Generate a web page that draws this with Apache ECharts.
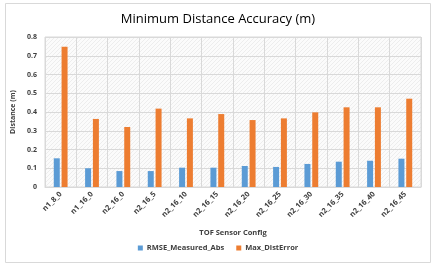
<!DOCTYPE html>
<html>
<head>
<meta charset="utf-8">
<script src="https://cdn.jsdelivr.net/npm/echarts@6/dist/echarts.min.js"></script>
<style>
html,body{margin:0;padding:0;background:#fff;}
#chart{width:436px;height:268px;}
</style>
</head>
<body>
<div id="chart"></div>
<script>
var categories = ['n1_8_0','n1_16_0','n2_16_0','n2_16_5','n2_16_10','n2_16_15','n2_16_20','n2_16_25','n2_16_30','n2_16_35','n2_16_40','n2_16_45'];
var rmseMeasuredAbs = [0.153, 0.100, 0.085, 0.085, 0.103, 0.103, 0.112, 0.107, 0.123, 0.135, 0.140, 0.151];
var maxDistError = [0.748, 0.363, 0.320, 0.418, 0.366, 0.389, 0.357, 0.366, 0.398, 0.425, 0.425, 0.471];
var yTicks = [0, 0.1, 0.2, 0.3, 0.4, 0.5, 0.6, 0.7, 0.8];

// hatch pattern for plot area
var pc = document.createElement('canvas');
pc.width = 4; pc.height = 4;
var pctx = pc.getContext('2d');
pctx.fillStyle = '#fbfbfb';
pctx.fillRect(0,0,4,4);
pctx.strokeStyle = '#ededed';
pctx.lineWidth = 1;
pctx.beginPath();
pctx.moveTo(0,4); pctx.lineTo(4,0);
pctx.moveTo(-1,1); pctx.lineTo(1,-1);
pctx.moveTo(3,5); pctx.lineTo(5,3);
pctx.stroke();

var chart = echarts.init(document.getElementById('chart'));
var font = 'Open Sans, Liberation Sans, sans-serif';
chart.setOption({
  animation: false,
  backgroundColor: '#ffffff',
  title: {
    text: 'Minimum Distance Accuracy (m)',
    left: 'center',
    top: 8,
    textStyle: {fontFamily: font, fontSize: 13, fontWeight: 'normal', color: '#000000'}
  },
  graphic: [{
    type: 'rect',
    shape: {x: 5.5, y: 3.5, width: 425, height: 259},
    style: {fill: 'none', stroke: '#d9d9d9', lineWidth: 1},
    silent: true,
    z: -1
  }],
  legend: {
    bottom: 11,
    left: 'center',
    itemWidth: 5,
    itemHeight: 5,
    itemGap: 12,
    icon: 'rect',
    textStyle: {fontFamily: font, fontSize: 7.5, color: '#404040', fontWeight: 'bold', padding: [0,0,0,-1]},
    data: ['RMSE_Measured_Abs', 'Max_DistError']
  },
  grid: {
    left: 45, right: 15, top: 37, bottom: 81,
    show: true,
    borderColor: '#d9d9d9',
    borderWidth: 1,
    backgroundColor: {image: pc, repeat: 'repeat'}
  },
  xAxis: {
    type: 'category',
    data: categories,
    name: 'TOF Sensor Config',
    nameLocation: 'middle',
    nameGap: 42,
    nameTextStyle: {fontFamily: font, fontSize: 7.5, fontWeight: 'bold', color: '#404040'},
    axisLine: {lineStyle: {color: '#d9d9d9'}},
    axisTick: {show: false},
    splitLine: {show: true, lineStyle: {color: '#d9d9d9'}},
    axisLabel: {rotate: 45, interval: 0, fontFamily: font, fontSize: 7.5, fontWeight: 'bold', color: '#404040', margin: 6}
  },
  yAxis: {
    type: 'value',
    min: 0, max: 0.8, interval: 0.1,
    name: 'Distance (m)',
    nameLocation: 'middle',
    nameGap: 24,
    nameTextStyle: {fontFamily: font, fontSize: 7, fontWeight: 'bold', color: '#404040'},
    axisLine: {show: false},
    axisTick: {show: false},
    splitLine: {lineStyle: {color: '#d9d9d9'}},
    axisLabel: {
      fontFamily: font, fontSize: 7, fontWeight: 'bold', color: '#404040', margin: 8,
      formatter: function (v) {
        for (var i = 0; i < yTicks.length; i++) {
          if (Math.abs(yTicks[i] - v) < 1e-9) return String(yTicks[i]);
        }
        return '';
      }
    }
  },
  series: [{
    name: 'RMSE_Measured_Abs',
    type: 'bar',
    data: rmseMeasuredAbs,
    barWidth: 6,
    barGap: '30%',
    itemStyle: {color: '#5b9bd5'}
  }, {
    name: 'Max_DistError',
    type: 'bar',
    data: maxDistError,
    barWidth: 6,
    itemStyle: {color: '#ed7d31'}
  }]
});
</script>
</body>
</html>
